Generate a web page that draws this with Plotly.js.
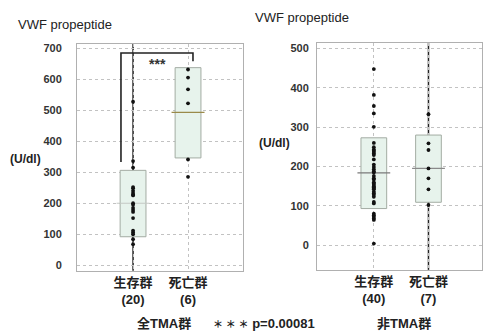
<!DOCTYPE html>
<html>
<head>
<meta charset="utf-8">
<script src="https://cdn.plot.ly/plotly-3.0.1.min.js"></script>
<style>html,body{margin:0;padding:0;background:#fff;}#chart{width:483px;height:334px;}</style>
</head>
<body>
<div id="chart"></div>
<script>
// ---- data ----
var categoriesAll = ['生存群<br>(20)', '死亡群<br>(6)'];
var categoriesNon = ['生存群<br>(40)', '死亡群<br>(7)'];

var allSurvive = [527, 336, 315, 252, 248, 240, 233, 228, 225, 200, 195, 185, 178, 172, 152, 112, 106, 100, 84, 68];
var allDeath = [631, 605, 567, 522, 341, 285];
var nonSurvive = [448, 382, 354, 335, 301, 260, 249, 243, 240, 237, 233, 229, 218, 205, 199, 193, 188, 185, 176, 170,
                  167, 160, 157, 153, 150, 147, 144, 142, 136, 132, 128, 123, 110, 106, 80, 76, 72, 68, 64, 4];
var nonDeath = [333, 259, 242, 195, 170, 142, 102];

// box = mean ± SD
var allBoxLow = [92, 346];
var allBoxHigh = [306, 637];
var allMean = [200, 493];
var nonBoxLow = [93, 109];
var nonBoxHigh = [273, 280];
var nonMean = [184, 195];

var pStars = '＊＊＊';
var pValueText = 'p=0.00081';

// ---- style ----
var FONT = 'Liberation Sans, Arial, Noto Sans CJK JP, sans-serif';
var boxFill = '#e7f3ec';
var boxLine = '#a3aca3';
var barWidth = 0.47;
var meanHalf = 0.3;

function boxTrace(low, high, xa, ya) {
  return {
    type: 'bar', x: [0, 1], base: low,
    y: high.map(function (h, i) { return h - low[i]; }),
    width: barWidth, xaxis: xa, yaxis: ya, hoverinfo: 'skip',
    marker: {color: boxFill, line: {color: boxLine, width: 1}}
  };
}
function meanTraces(mean, xa, ya, colors) {
  return mean.map(function (m, i) {
    return {type: 'scatter', mode: 'lines', x: [i - meanHalf, i + meanHalf], y: [m, m],
      xaxis: xa, yaxis: ya, line: {color: colors[i], width: 1.2}, hoverinfo: 'skip'};
  });
}
function pointTrace(vals, idx, xa, ya) {
  return {type: 'scatter', mode: 'markers', x: vals.map(function () { return idx; }), y: vals,
    xaxis: xa, yaxis: ya, marker: {color: '#111', size: 3.8}, hoverinfo: 'skip'};
}

var data = [
  boxTrace(allBoxLow, allBoxHigh, 'x', 'y'),
  boxTrace(nonBoxLow, nonBoxHigh, 'x2', 'y2')
].concat(meanTraces(allMean, 'x', 'y', ['#c4c8c4', '#9a8a4a']))
 .concat(meanTraces(nonMean, 'x2', 'y2', ['#7a7a7a', '#8a8a8a']))
 .concat([
  pointTrace(allSurvive, 0, 'x', 'y'),
  pointTrace(allDeath, 1, 'x', 'y'),
  pointTrace(nonSurvive, 0, 'x2', 'y2'),
  pointTrace(nonDeath, 1, 'x2', 'y2')
]);

var gridCol = '#c2c2c2';
function xAxis(dom, range, text, anchor) {
  return {domain: dom, range: range, anchor: anchor, tickvals: [0, 1], ticktext: text,
    showgrid: true, gridcolor: gridCol, griddash: 'dot', gridwidth: 1, zeroline: false,
    showline: true, mirror: true, linecolor: '#b0b0b0', linewidth: 1, ticks: '',
    tickfont: {family: FONT, size: 13, color: '#222', weight: 'bold'}, fixedrange: true};
}
function yAxis(dom, range, anchor, standoff) {
  return {domain: dom, range: range, anchor: anchor, dtick: 100, tick0: 0,
    showgrid: true, gridcolor: gridCol, griddash: 'dot', gridwidth: 1, zeroline: false,
    showline: true, mirror: true, linecolor: '#b0b0b0', linewidth: 1, ticks: '',
    ticklabelstandoff: standoff,
    tickfont: {family: FONT, size: 11, color: '#333', weight: 'bold'}, fixedrange: true};
}

var layout = {
  width: 483, height: 334,
  margin: {l: 0, r: 0, t: 0, b: 0},
  paper_bgcolor: '#fff', plot_bgcolor: '#fff',
  showlegend: false, barmode: 'overlay',
  font: {family: FONT},
  xaxis: xAxis([0.1594, 0.5031], [-1.02, 2.0], categoriesAll, 'y'),
  yaxis: yAxis([0.189, 0.869], [-18, 714], 'x', 12),
  xaxis2: xAxis([0.6563, 0.998], [-1.04, 1.98], categoriesNon, 'y2'),
  yaxis2: yAxis([0.192, 0.871], [-63, 514], 'x2', 5),
  shapes: [
    {type: 'line', xref: 'x', yref: 'y domain', x0: 0, x1: 0, y0: 0, y1: 1, line: {color: '#222', width: 1.5}, layer: 'below'},
    {type: 'line', xref: 'x2', yref: 'y2 domain', x0: 1, x1: 1, y0: 0, y1: 1, line: {color: '#222', width: 1.5}, layer: 'below'},
    {type: 'path', xref: 'x', yref: 'y', path: 'M -0.22 333 L -0.22 684 L 1.09 684 L 1.09 658', line: {color: '#222', width: 1.6}}
  ],
  annotations: [
    {xref: 'paper', yref: 'paper', x: 16 / 483, y: 1 - 24 / 334, xanchor: 'left', yanchor: 'middle', showarrow: false,
      text: 'VWF propeptide', font: {family: FONT, size: 13, color: '#222'}},
    {xref: 'paper', yref: 'paper', x: 253 / 483, y: 1 - 18 / 334, xanchor: 'left', yanchor: 'middle', showarrow: false,
      text: 'VWF propeptide', font: {family: FONT, size: 13, color: '#222'}},
    {xref: 'paper', yref: 'paper', x: 8 / 483, y: 1 - 159 / 334, xanchor: 'left', yanchor: 'middle', showarrow: false,
      text: '(U/dl)', font: {family: FONT, size: 12, color: '#222', weight: 'bold'}},
    {xref: 'paper', yref: 'paper', x: 257 / 483, y: 1 - 143 / 334, xanchor: 'left', yanchor: 'middle', showarrow: false,
      text: '(U/dl)', font: {family: FONT, size: 12, color: '#222', weight: 'bold'}},
    {xref: 'x', yref: 'y', x: 0.44, y: 648, showarrow: false, text: '***',
      font: {family: FONT, size: 14, color: '#333', weight: 'bold'}},
    {xref: 'paper', yref: 'paper', x: 164 / 483, y: 1 - 323 / 334, xanchor: 'center', yanchor: 'middle', showarrow: false,
      text: '全TMA群', font: {family: FONT, size: 13, color: '#222', weight: 'bold'}},
    {xref: 'paper', yref: 'paper', x: 211 / 483, y: 1 - 323 / 334, xanchor: 'left', yanchor: 'middle', showarrow: false,
      text: '<span style="font-size:10px">' + pStars.split('').join(' ') + '</span> ' + pValueText,
      font: {family: FONT, size: 13, color: '#222', weight: 'bold'}},
    {xref: 'paper', yref: 'paper', x: 404 / 483, y: 1 - 323 / 334, xanchor: 'center', yanchor: 'middle', showarrow: false,
      text: '非TMA群', font: {family: FONT, size: 13, color: '#222', weight: 'bold'}}
  ]
};

Plotly.newPlot('chart', data, layout, {staticPlot: true, displayModeBar: false});
</script>
</body>
</html>
